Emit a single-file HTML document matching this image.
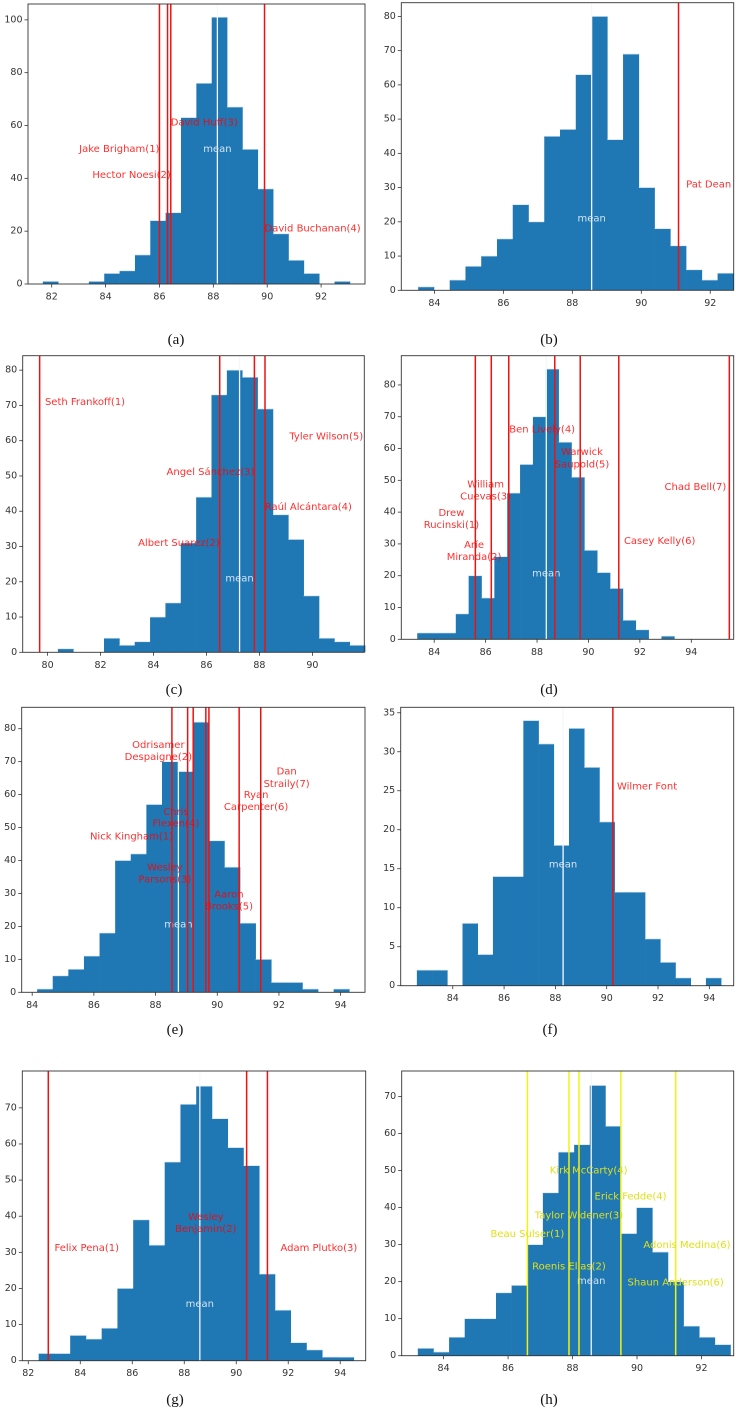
<!DOCTYPE html>
<html><head><meta charset="utf-8"><style>
html,body{margin:0;padding:0;background:#fff;}
svg{display:block;font-family:"DejaVu Sans","Liberation Sans",sans-serif;}
</style></head><body>
<svg id="fig" width="736" height="1412" viewBox="0 0 736 1412" xmlns="http://www.w3.org/2000/svg"></svg>
<script>
// ---- data ----
const countsA=[1,0,0,1,4,5,11,24,27,63,76,101,67,51,36,19,9,4,0,1];
const countsB=[1,0,3,7,10,15,25,20,45,47,63,80,44,69,30,18,13,6,3,5];
const countsC=[1,0,0,4,2,3,10,14,31,44,73,80,78,69,39,32,16,4,3,2];
const countsD=[2,2,2,8,20,13,26,46,55,70,85,62,51,28,21,16,6,3,0,1];
const countsE=[1,5,7,11,18,40,42,57,70,67,82,46,38,21,10,3,3,1,0,1];
const countsF=[2,2,0,8,4,14,14,34,31,18,33,28,21,12,12,6,3,1,0,1];
const countsG=[2,2,7,6,9,20,39,32,55,71,76,67,59,54,24,14,5,3,1,1];
const countsH=[2,1,5,10,10,17,19,30,44,55,57,73,62,33,40,28,20,8,5,3];
const binStarts=[81.67,83.53,80.39,83.34,84.16,82.6,82.4,83.2];
const binWidths=[0.57,0.457,0.58,0.5,0.506,0.593,0.606,0.485];
const meansAll=[88.15,88.56,87.25,88.36,88.74,88.3,88.6,88.58];
const meanLabelY=[51,20.8,20.8,20.5,20.5,15.5,15.5,20];
const linesA=[86.0,86.3,86.42,89.9];
const linesB=[91.08];
const linesC=[79.7,86.5,87.81,88.21];
const linesD=[85.6,86.22,86.9,88.69,89.68,91.18,95.48];
const linesE=[88.53,89.04,89.22,89.63,89.73,90.71,91.41];
const linesF=[90.24];
const linesG=[82.77,90.4,91.2];
const linesH=[86.6,87.89,88.2,89.5,91.2];
// labels: [text, x, y, anchor]
const labelsA=[["Jake Brigham(1)",86.0,51,"end"],["Hector Noesi(2)",86.42,41,"end"],["David Huff(3)",86.42,61,"start"],["David Buchanan(4)",89.9,20.8,"start"]];
const labelsB=[["Pat Dean",91.3,30.8,"start"]];
const labelsC=[["Seth Frankoff(1)",79.9,70.8,"start"],["Albert Suarez(2)",86.5,30.9,"end"],["Angel Sánchez(3)",87.81,51,"end"],["Raúl Alcántara(4)",88.2,41.1,"start"],["Tyler Wilson(5)",89.13,61,"start"]];
const labelsD=[["Drew",84.67,39.6,"middle"],["Rucinski(1)",84.67,35.8,"middle"],["Aríe",85.55,29.5,"middle"],["Miranda(2)",85.55,25.8,"middle"],["William",86.0,48.6,"middle"],["Cuevas(3)",86.0,44.8,"middle"],["Ben Lively(4)",88.2,65.8,"middle"],["Warwick",89.75,58.7,"middle"],["Saupold(5)",89.75,54.9,"middle"],["Casey Kelly(6)",92.77,30.8,"middle"],["Chad Bell(7)",94.16,47.8,"middle"]];
const labelsE=[["Nick Kingham(1)",87.22,47.2,"middle"],["Odrisamer",88.09,74.9,"middle"],["Despaigne(2)",88.09,71.3,"middle"],["Wesley",88.3,37.7,"middle"],["Parsons(3)",88.3,34.1,"middle"],["Chris",88.66,54.6,"middle"],["Flexen(4)",88.66,51.1,"middle"],["Aaron",90.38,29.5,"middle"],["Brooks(5)",90.38,25.9,"middle"],["Ryan",91.26,59.7,"middle"],["Carpenter(6)",91.26,56.1,"middle"],["Dan",92.25,66.8,"middle"],["Straily(7)",92.25,63.1,"middle"]];
const labelsF=[["Wilmer Font",90.4,25.5,"start"]];
const labelsG=[["Felix Pena(1)",84.25,31,"middle"],["Wesley",88.83,39.6,"middle"],["Benjamin(2)",88.83,36.3,"middle"],["Adam Plutko(3)",93.18,31,"middle"]];
const labelsH=[["Beau Sulser(1)",86.6,32.8,"middle"],["Roenis Elias(2)",87.89,23.9,"middle"],["Taylor Widener(3)",88.2,37.8,"middle"],["Kirk McCarty(4)",88.5,49.9,"middle"],["Erick Fedde(4)",89.8,42.8,"middle"],["Adonis Medina(6)",91.55,29.7,"middle"],["Shaun Anderson(6)",91.2,19.7,"middle"]];
const xTicksA=[82,84,86,88,90,92], yTicksA=[0,20,40,60,80,100];
const xTicksB=[84,86,88,90,92], yTicksB=[0,10,20,30,40,50,60,70,80];
const xTicksC=[80,82,84,86,88,90], yTicksC=[0,10,20,30,40,50,60,70,80];
const xTicksD=[84,86,88,90,92,94], yTicksD=[0,10,20,30,40,50,60,70,80];
const xTicksE=[84,86,88,90,92,94], yTicksE=[0,10,20,30,40,50,60,70,80];
const xTicksF=[84,86,88,90,92,94], yTicksF=[0,5,10,15,20,25,30,35];
const xTicksG=[82,84,86,88,90,92,94], yTicksG=[0,10,20,30,40,50,60,70];
const xTicksH=[84,86,88,90,92], yTicksH=[0,10,20,30,40,50,60,70];
const captions=["(a)","(b)","(c)","(d)","(e)","(f)","(g)","(h)"];

// ---- layout (pixel geometry & domains) ----
const geom=[
 {l:28,r:365,t:4,b:284,x0:81.12,x1:93.63,ym:106,cx:176,cy:340,col:[0,368]},
 {l:401.3,r:733.7,t:2.7,b:290.3,x0:83.04,x1:92.68,ym:84,cx:549,cy:340,col:[368,736]},
 {l:22.7,r:364.3,t:355.7,b:652.3,x0:79.06,x1:91.96,ym:84.1,cx:174,cy:690,col:[0,368]},
 {l:401.3,r:733.7,t:355.7,b:639.3,x0:82.72,x1:95.65,ym:89.2,cx:549,cy:690,col:[368,736]},
 {l:21.7,r:365,t:707.3,b:992.3,x0:83.66,x1:94.79,ym:86.5,cx:175,cy:1030,col:[0,368]},
 {l:400.7,r:733.7,t:707.3,b:985.7,x0:81.97,x1:94.95,ym:35.7,cx:550,cy:1030,col:[368,736]},
 {l:22.3,r:365.7,t:1071,b:1360.7,x0:81.77,x1:94.98,ym:80.2,cx:175,cy:1400,col:[0,368]},
 {l:401.7,r:733.7,t:1071,b:1355.7,x0:82.7,x1:93.0,ym:76.9,cx:549,cy:1400,col:[368,736]}
];
const countsAll=[countsA,countsB,countsC,countsD,countsE,countsF,countsG,countsH];
const linesAll=[linesA,linesB,linesC,linesD,linesE,linesF,linesG,linesH];
const labelsAll=[labelsA,labelsB,labelsC,labelsD,labelsE,labelsF,labelsG,labelsH];
const xTicksAll=[xTicksA,xTicksB,xTicksC,xTicksD,xTicksE,xTicksF,xTicksG,xTicksH];
const yTicksAll=[yTicksA,yTicksB,yTicksC,yTicksD,yTicksE,yTicksF,yTicksG,yTicksH];
const panelNames=["a","b","c","d","e","f","g","h"];

const NS="http://www.w3.org/2000/svg";
const svg=document.getElementById("fig");
function mk(tag,attrs,parent){const e=document.createElementNS(NS,tag);for(const k in attrs)e.setAttribute(k,attrs[k]);(parent||svg).appendChild(e);return e;}
const defs=mk("defs",{});

for(let p=0;p<8;p++){
  const g=geom[p], nm=panelNames[p];
  const xs=v=>g.l+(v-g.x0)/(g.x1-g.x0)*(g.r-g.l);
  const ys=v=>g.b-v/g.ym*(g.b-g.t);
  const cp=mk("clipPath",{id:"clip"+nm},defs);
  mk("rect",{x:g.col[0],y:0,width:g.col[1]-g.col[0],height:1412},cp);
  const grp=mk("g",{"clip-path":"url(#clip"+nm+")"});
  
  
  const lineColor=(p===7)?"#f2f20f":"#ee1111";
  const textColor=(p===7)?"#e0e01a":"rgba(255,0,0,0.82)";
  // bars
  countsAll[p].forEach((c,i)=>{
    if(c<=0)return;
    const a=binStarts[p]+i*binWidths[p], bb=a+binWidths[p];
    const r=mk("rect",{x:xs(a),y:ys(c),width:xs(bb)-xs(a)+0.3,height:ys(0)-ys(c),fill:"#1f77b4"},grp);
    
    
    mk("line",{x1:xs(a),x2:xs(bb),y1:ys(c),y2:ys(c),stroke:"#d6e4f0","stroke-width":0.7},grp);
  });
  // mean
  const ml=mk("line",{x1:xs(meansAll[p]),x2:xs(meansAll[p]),y1:g.t,y2:g.b,stroke:"#f4f8fc","stroke-width":1.3},grp);
  
  
  const mt=mk("text",{x:xs(meansAll[p]),y:ys(meanLabelY[p]),"text-anchor":"middle","dominant-baseline":"central","font-size":"10",fill:"#d4e4f2"},grp);
  mt.textContent="mean";
  
  
  // marker lines
  linesAll[p].forEach((v,i)=>{
    const l=mk("line",{x1:xs(v),x2:xs(v),y1:g.t,y2:g.b,stroke:lineColor,"stroke-width":1.5},grp);
    
    
  });
  // labels
  labelsAll[p].forEach((lb,i)=>{
    const t=mk("text",{x:xs(lb[1]),y:ys(lb[2]),"text-anchor":lb[3],"dominant-baseline":"central","font-size":"10",fill:textColor},grp);
    t.textContent=lb[0];
    
    
  });
  // axes frame
  const fr=mk("rect",{x:g.l,y:g.t,width:g.r-g.l,height:g.b-g.t,fill:"none",stroke:"#333","stroke-width":0.9},grp);
  
  
  // ticks
  xTicksAll[p].forEach(v=>{
    const x=xs(v);
    mk("line",{x1:x,x2:x,y1:g.b,y2:g.b+3.5,stroke:"#333","stroke-width":0.8},grp);
    const t=mk("text",{x:x,y:g.b+13,"text-anchor":"middle","dominant-baseline":"central","font-size":"9.5",fill:"#333"},grp);
    t.textContent=String(v);
    
    
  });
  yTicksAll[p].forEach(v=>{
    const y=ys(v);
    mk("line",{x1:g.l-3.5,x2:g.l,y1:y,y2:y,stroke:"#333","stroke-width":0.8},grp);
    const t=mk("text",{x:g.l-5.5,y:y,"text-anchor":"end","dominant-baseline":"central","font-size":"9.5",fill:"#333"},grp);
    t.textContent=String(v);
    
    
  });
  const cap=mk("text",{x:g.cx,y:g.cy,"text-anchor":"middle","dominant-baseline":"central","font-size":"15",fill:"#111","font-family":"Liberation Serif, serif"});
  cap.textContent=captions[p];
  
  
}
</script>
</body></html>
